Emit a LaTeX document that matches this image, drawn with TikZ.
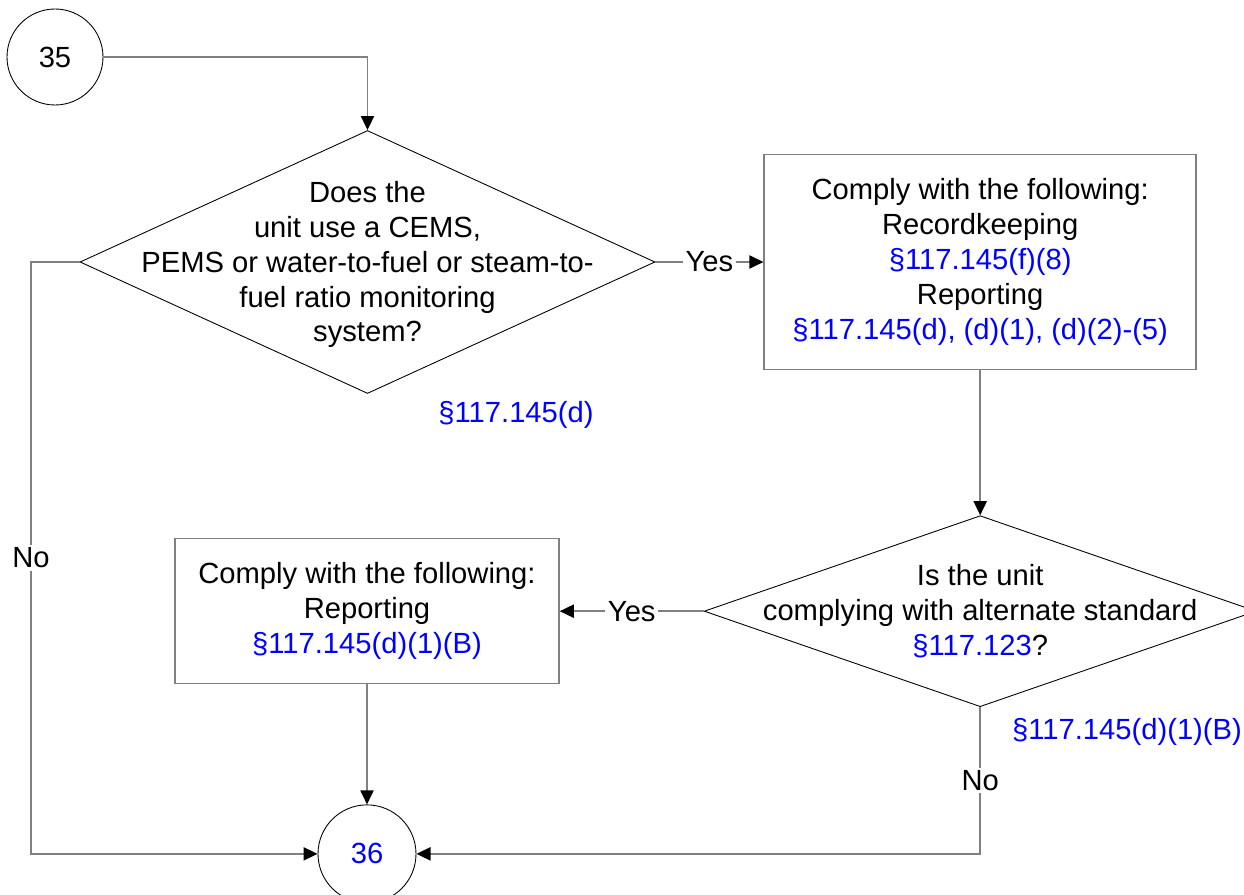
\documentclass[tikz,border=0pt]{standalone}
\usepackage{fontspec}
\setmainfont{Liberation Sans}
\usetikzlibrary{positioning}
\usetikzlibrary{shapes.geometric}
\usetikzlibrary{arrows.meta}
\definecolor{linegray}{HTML}{808080}
\tikzset{>={Triangle[length=8pt,width=7.5pt,color=black]}}
\tikzset{every node/.style={font=\fontsize{16.6}{19.9}\selectfont}}
\tikzset{conn/.style={draw=linegray,line width=0.85pt}}
\tikzset{term/.style={draw,circle,minimum size=1.92cm,inner sep=0pt,line width=0.5pt}}
\tikzset{decision/.style={draw,diamond,inner sep=0pt,line width=0.5pt}}
\tikzset{act/.style={draw=linegray,rectangle,line width=0.85pt,align=center}}
\tikzset{lbl/.style={fill=white,inner sep=1.5pt}}
\tikzset{ref/.style={text=blue}}

\begin{document}
\begin{tikzpicture}
    \useasboundingbox (0,0) rectangle (24.88,-17.9);

    \node[term] (c35) at (1.1, -1.14) {35};
    \node[decision, minimum width=11.5cm, minimum height=5.26cm] (q1) at (7.35, -5.24) {};
    \node[align=center] (q1t) at ([yshift=-0.05cm]q1) {Does the\\unit use a CEMS,\\PEMS or water-to-fuel or steam-to-\\fuel ratio monitoring\\system?};
    \node[ref] (r1) at (10.32, -8.3) {§117.145(d)};

    \node[act, minimum width=8.64cm, minimum height=4.3cm] (b1) [right=2.16 of q1] {Comply with the following:\\Recordkeeping\\{\color{blue}§117.145(f)(8)}\\Reporting\\{\color{blue}§117.145(d), (d)(1), (d)(2)-(5)}};

    \node[decision, minimum width=11.04cm, minimum height=3.82cm] (q2) [below=2.9 of b1] {};
    \node[align=center] (q2t) at (q2) {Is the unit\\complying with alternate standard\\{\color{blue}§117.123}?};
    \node[ref] (r2) at (22.54, -14.64) {§117.145(d)(1)(B)};

    \node[act, minimum width=7.68cm, minimum height=2.9cm] (b2) [left=2.88 of q2] {Comply with the following:\\Reporting\\{\color{blue}§117.145(d)(1)(B)}};

    \node[term, minimum size=1.96cm, text=blue] (c36) [below=2.4 of b2] {36};
    \coordinate (nl) at (0.62, -5.24);

    \draw[conn,->] (c35.east) -| (q1.north);
    \draw[conn,->] (q1.east) -- node[lbl] {Yes} (b1.west);
    \draw[conn,->] (b1.south) -- (q2.north);
    \draw[conn,->] (q2.west) -- node[lbl] {Yes} (b2.east);
    \draw[conn,->] (b2.south) -- (c36.north);

    \draw[conn,->] (q1.west) -- (nl) -- node[lbl] {No} (nl |- c36) -- (c36.west);
    \draw[conn,->] (q2.south) -- node[lbl] {No} (q2.south |- c36) -- (c36.east);
\end{tikzpicture}
\end{document}
